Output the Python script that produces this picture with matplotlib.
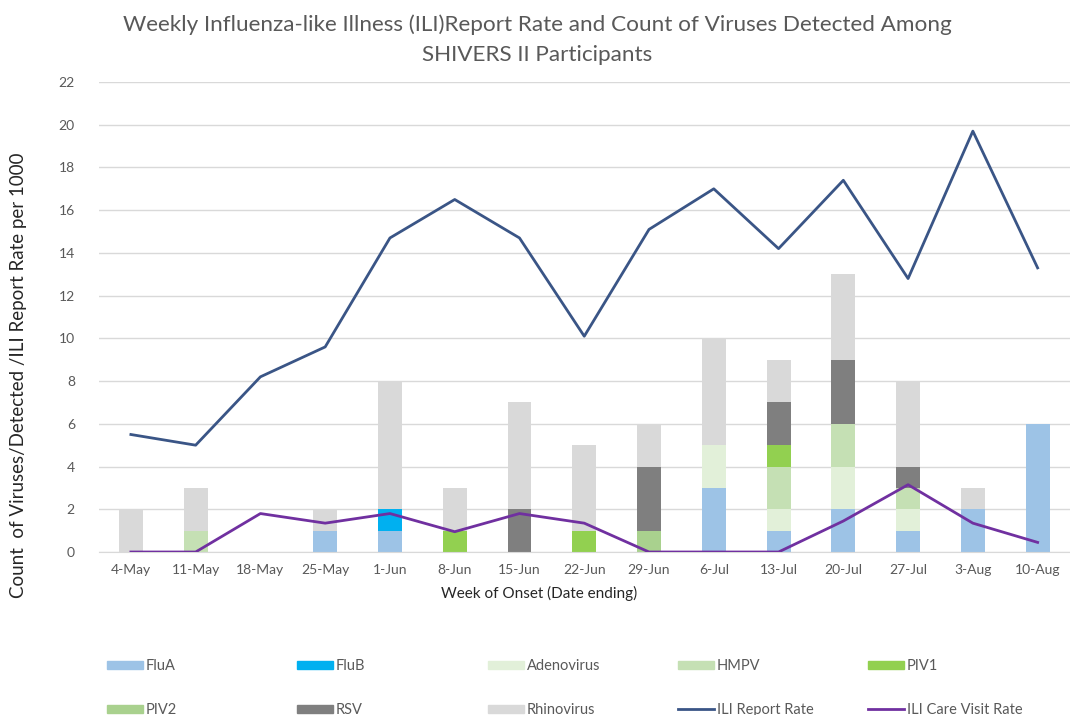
import matplotlib
matplotlib.use("Agg")
import matplotlib.pyplot as plt
import numpy as np
from matplotlib.patches import Patch
from matplotlib.lines import Line2D

plt.rcParams['font.family'] = ['Lato', 'DejaVu Sans']

weeks = ["4-May", "11-May", "18-May", "25-May", "1-Jun", "8-Jun", "15-Jun", "22-Jun",
         "29-Jun", "6-Jul", "13-Jul", "20-Jul", "27-Jul", "3-Aug", "10-Aug"]

flu_a      = [0, 0, 0, 1, 1, 0, 0, 0, 0, 3, 1, 2, 1, 2, 6]
flu_b      = [0, 0, 0, 0, 1, 0, 0, 0, 0, 0, 0, 0, 0, 0, 0]
adenovirus = [0, 0, 0, 0, 0, 0, 0, 0, 0, 2, 1, 2, 1, 0, 0]
hmpv       = [0, 1, 0, 0, 0, 0, 0, 0, 0, 0, 2, 2, 1, 0, 0]
piv1       = [0, 0, 0, 0, 0, 1, 0, 1, 0, 0, 1, 0, 0, 0, 0]
piv2       = [0, 0, 0, 0, 0, 0, 0, 0, 1, 0, 0, 0, 0, 0, 0]
rsv        = [0, 0, 0, 0, 0, 0, 2, 0, 3, 0, 2, 3, 1, 0, 0]
rhinovirus = [2, 2, 0, 1, 6, 2, 5, 4, 2, 5, 2, 4, 4, 1, 0]

ili_report_rate = [5.5, 5.0, 8.2, 9.6, 14.7, 16.5, 14.7, 10.1, 15.1, 17.0, 14.2, 17.4, 12.8, 19.7, 13.3]
ili_care_rate   = [0.0, 0.0, 1.8, 1.35, 1.8, 0.95, 1.8, 1.35, 0.0, 0.0, 0.0, 1.45, 3.15, 1.35, 0.45]

series = [
    ("FluA", flu_a, "#9DC3E6"),
    ("FluB", flu_b, "#00B0F0"),
    ("Adenovirus", adenovirus, "#E2F0D9"),
    ("HMPV", hmpv, "#C5E0B4"),
    ("PIV1", piv1, "#92D050"),
    ("PIV2", piv2, "#A9D18E"),
    ("RSV", rsv, "#7F7F7F"),
    ("Rhinovirus", rhinovirus, "#D9D9D9"),
]
report_color = "#3A5586"
care_color = "#7030A0"

fig = plt.figure(figsize=(10.7, 7.15), dpi=100)
W, H = 1070, 715
ax = fig.add_axes([98.5 / W, 1 - 552 / H, (W - 98.5) / W, (552 - 82) / H])

x = np.arange(len(weeks))
bottom = np.zeros(len(weeks))
for name, vals, col in series:
    v = np.array(vals, dtype=float)
    ax.bar(x, v, width=0.37, bottom=bottom, color=col, zorder=2)
    bottom += v

ax.plot(x, ili_report_rate, color=report_color, lw=2.0, zorder=3)
ax.plot(x, ili_care_rate, color=care_color, lw=2.0, zorder=3)

ax.set_xlim(-0.5, len(weeks) - 0.5)
ax.set_ylim(0, 22)
ax.set_yticks(np.arange(0, 23, 2))
ax.set_xticks(x)
ax.set_xticklabels(weeks)
ax.grid(axis='y', color='#D9D9D9', lw=1, zorder=0)
ax.set_axisbelow(True)
for s in ['top', 'right', 'left']:
    ax.spines[s].set_visible(False)
ax.spines['bottom'].set_color('#D9D9D9')
ax.tick_params(axis='both', length=0, colors='#595959', labelsize=10)
ax.tick_params(axis='y', pad=17)
ax.tick_params(axis='x', pad=9)

fig.text(537 / W, 1 - 40 / H,
         "Weekly Influenza-like Illness (ILI)Report Rate and Count of Viruses Detected Among\nSHIVERS II Participants",
         ha='center', va='center', fontsize=16.2, color='#595959', linespacing=1.65)
fig.text(539 / W, 1 - 593 / H, "Week of Onset (Date ending)", ha='center', va='center',
         fontsize=11, color='#262626')
fig.text(19 / W, 1 - 375 / H, "Count  of Viruses/Detected /ILI Report Rate per 1000",
         ha='center', va='center', rotation=90, fontsize=13.5, color='#262626')

# legend: 5 columns x 2 rows
handles = [Patch(color=c) for _, _, c in series] + [
    Line2D([], [], color=report_color, lw=2.0),
    Line2D([], [], color=care_color, lw=2.0)]
labels = [n for n, _, _ in series] + ["ILI Report Rate", "ILI Care Visit Rate"]
col_x = [107, 297, 488, 678, 868]
for c in range(5):
    hs = [handles[c], handles[c + 5]]
    ls = [labels[c], labels[c + 5]]
    leg = fig.legend(hs, ls, loc='upper left',
                     bbox_to_anchor=(col_x[c] / W, 1 - 659 / H),
                     frameon=False, fontsize=10.5, labelcolor='#595959',
                     handlelength=2.5, handleheight=0.45, handletextpad=0.15,
                     labelspacing=2.05, borderpad=0, borderaxespad=0)

fig.savefig("out.png", dpi=100)
